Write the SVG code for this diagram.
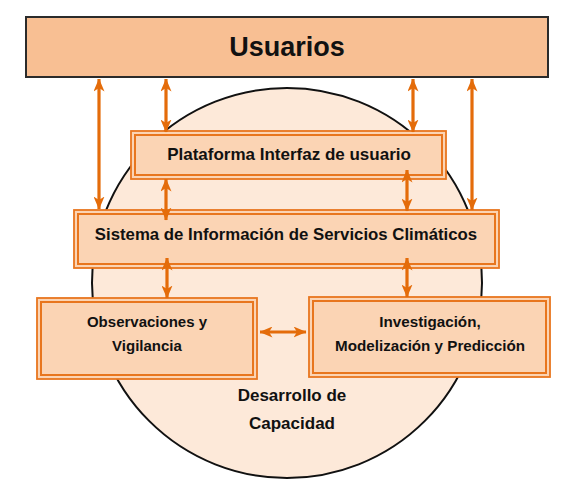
<svg xmlns="http://www.w3.org/2000/svg" width="580" height="490" viewBox="0 0 580 490">
<style>
.box{fill:#FBD4B4;stroke:#E8761E;stroke-width:1.8}
.inner{fill:none;stroke:#E8761E;stroke-width:2}
.t{font-family:"Liberation Sans",Arial,sans-serif;font-weight:bold;fill:#111;text-anchor:middle}
.c{stroke:#E46C0A;stroke-width:3.2;fill:none;marker-start:url(#ah);marker-end:url(#ah)}
</style>
<defs>
<marker id="ah" markerUnits="userSpaceOnUse" markerWidth="13" markerHeight="11" viewBox="0 0 13 11" refX="12.5" refY="5.5" orient="auto-start-reverse">
<path d="M0,0 L13,5.5 L0,11 L3.5,5.5 z" fill="#E46C0A"/>
</marker>
</defs>
<rect width="580" height="490" fill="#fff"/>
<g id="capacidad">
<circle cx="287" cy="283" r="195" fill="#FDE9D9" stroke="#111" stroke-width="2"/>
<text class="t" x="292" y="401" font-size="17">Desarrollo de</text>
<text class="t" x="292" y="429" font-size="17">Capacidad</text>
</g>
<g id="usuarios">
<rect x="26" y="17" width="522" height="60" fill="#F8BF93" stroke="#2b2b2b" stroke-width="2"/>
<text class="t" x="287" y="56" font-size="27">Usuarios</text>
</g>
<g id="plataforma">
<rect class="box" x="131" y="131" width="315" height="48"/>
<rect class="inner" x="135" y="135" width="307" height="40"/>
<text class="t" x="289" y="160" font-size="17">Plataforma Interfaz de usuario</text>
</g>
<g id="sistema">
<rect class="box" x="74" y="210" width="425" height="58"/>
<rect class="inner" x="78" y="214" width="417" height="50"/>
<text class="t" x="286" y="240" font-size="16.8">Sistema de Información de Servicios Climáticos</text>
</g>
<g id="observaciones">
<rect class="box" x="37" y="298" width="220" height="81"/>
<rect class="inner" x="41" y="302" width="212" height="73"/>
<text class="t" x="147" y="327" font-size="15">Observaciones y</text>
<text class="t" x="147" y="351" font-size="15">Vigilancia</text>
</g>
<g id="investigacion">
<rect class="box" x="309" y="297" width="241" height="80"/>
<rect class="inner" x="313" y="301" width="233" height="72"/>
<text class="t" x="430" y="327" font-size="15.2">Investigación,</text>
<text class="t" x="430" y="351" font-size="15.2">Modelización y Predicción</text>
</g>
<g id="connectors">
<line class="c" x1="99" y1="79" x2="99" y2="209"/>
<line class="c" x1="166" y1="79" x2="166" y2="132"/>
<line class="c" x1="413" y1="79" x2="413" y2="132"/>
<line class="c" x1="472" y1="79" x2="472" y2="210"/>
<line class="c" x1="166" y1="179" x2="166" y2="220"/>
<line class="c" x1="407" y1="170" x2="407" y2="211"/>
<line class="c" x1="167" y1="258" x2="167" y2="298"/>
<line class="c" x1="407" y1="258" x2="407" y2="297"/>
<line class="c" x1="260" y1="332" x2="306" y2="332"/>
</g>
</svg>
